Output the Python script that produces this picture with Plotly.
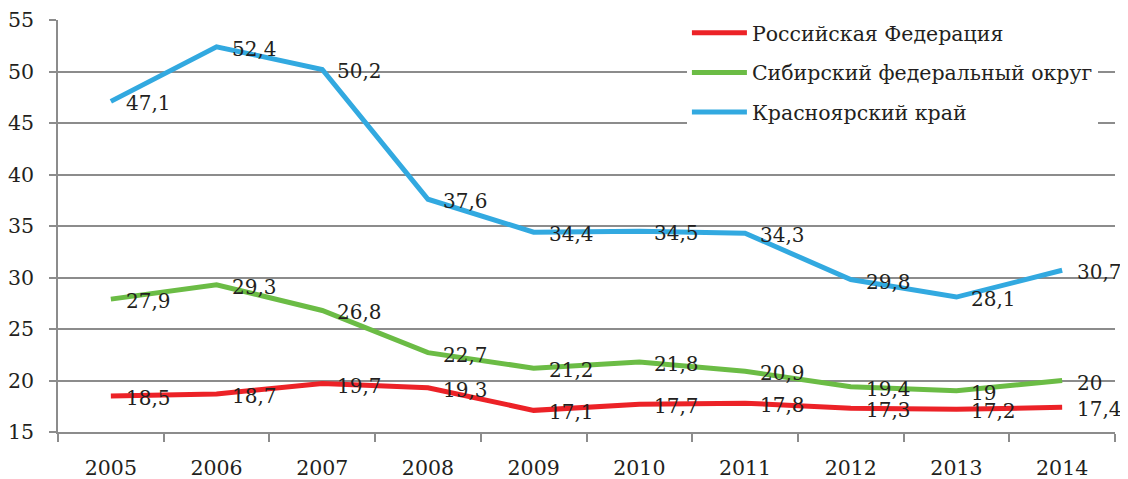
import plotly.graph_objects as go

years = ["2005", "2006", "2007", "2008", "2009", "2010", "2011", "2012", "2013", "2014"]
rf = [18.5, 18.7, 19.7, 19.3, 17.1, 17.7, 17.8, 17.3, 17.2, 17.4]
sfo = [27.9, 29.3, 26.8, 22.7, 21.2, 21.8, 20.9, 19.4, 19, 20]
kk = [47.1, 52.4, 50.2, 37.6, 34.4, 34.5, 34.3, 29.8, 28.1, 30.7]

series = [
    ("Российская Федерация", rf, "#EC2227"),
    ("Сибирский федеральный округ", sfo, "#6BBC45"),
    ("Красноярский край", kk, "#32A9E0"),
]

FONT = "DejaVu Serif"
FS = 20.5
TXT = "#231F20"
GRID = "#8C8C8C"

fig = go.Figure()
annotations = []
for i, (name, vals, col) in enumerate(series):
    fig.add_trace(go.Scatter(
        x=years, y=vals, mode="lines", name=name,
        line=dict(color=col, width=5), legendgroup=f"g{i}",
    ))
    for j, v in enumerate(vals):
        annotations.append(dict(
            x=j, y=v, xref="x", yref="y", text=f"{v:g}".replace(".", ","),
            showarrow=False, xanchor="left", yanchor="middle", xshift=14, yshift=-2,
            borderpad=0,
            font=dict(family=FONT, size=20, color=TXT),
        ))

fig.update_layout(
    width=1120, height=471,
    margin=dict(l=50, r=13, t=12, b=47, autoexpand=False),
    paper_bgcolor="white", plot_bgcolor="white",
    font=dict(family=FONT, size=FS, color=TXT),
    annotations=annotations,
    showlegend=True,
    legend=dict(
        x=0.595, y=1.017, xanchor="left", yanchor="top",
        bgcolor="white", borderwidth=0,
        font=dict(family=FONT, size=FS, color=TXT),
        itemwidth=55, tracegroupgap=10,
    ),
    xaxis=dict(
        type="category", range=[-0.5, len(years) - 0.5], autorange=False, automargin=False,
        showgrid=False, showline=True, linecolor=GRID, linewidth=1.5,
        ticks="outside", tickson="boundaries", ticklen=8, tickcolor=GRID, tickwidth=1.5,
        ticklabelstandoff=17, ticklabeloverflow="allow",
        tickfont=dict(family=FONT, size=FS, color=TXT),
    ),
    yaxis=dict(
        range=[15, 55], autorange=False, automargin=False, dtick=5, tick0=15,
        showgrid=True, gridcolor=GRID, gridwidth=1.5,
        showline=True, linecolor=GRID, linewidth=1.5, zeroline=False,
        ticks="outside", ticklen=7, tickcolor=GRID, tickwidth=1.5,
        ticklabelstandoff=11, ticklabeloverflow="allow",
        tickfont=dict(family=FONT, size=FS, color=TXT),
    ),
)

fig.write_html("out.html")
